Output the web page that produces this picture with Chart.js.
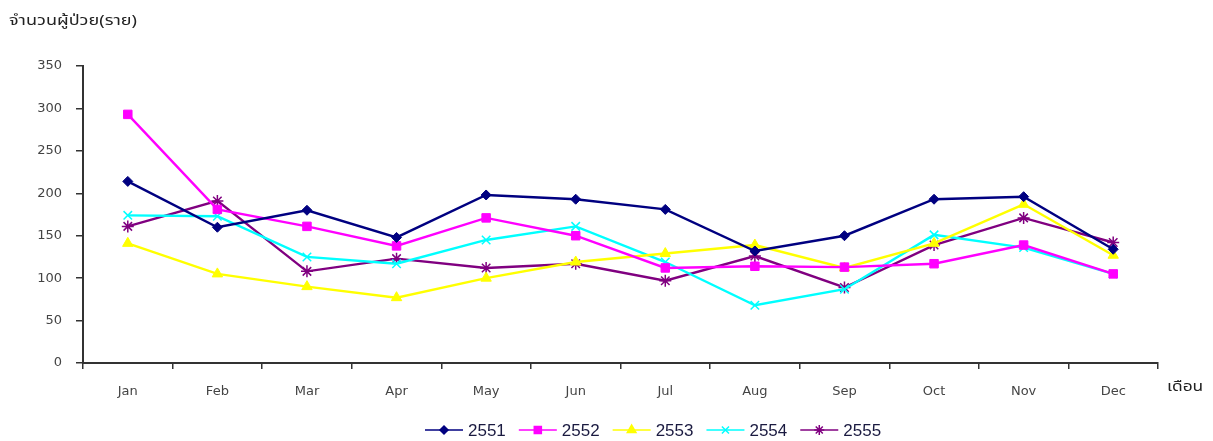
<!DOCTYPE html>
<html>
<head>
<meta charset="utf-8">
<script src="https://cdn.jsdelivr.net/npm/chart.js@4.4.1/dist/chart.umd.min.js"></script>
<style>
  html, body { margin: 0; padding: 0; background: #fff; }
  #wrap { position: relative; width: 1213px; height: 441px; }
  canvas { position: absolute; left: 0; top: 0; }
  .lbl { position: absolute; font-family: Tahoma, "Noto Sans Thai", "Noto Sans", "DejaVu Sans", sans-serif; color: #222; white-space: nowrap; transform-origin: 0 0; }
</style>
</head>
<body>
<div id="wrap">
  <canvas id="c" width="1213" height="441"></canvas>
  <div class="lbl" id="ytitle" style="left:9px; top:10px; font-size:14px; transform:scaleX(1.29);">จำนวนผู้ป่วย(ราย)</div>
  <div class="lbl" id="xtitle" style="left:1167px; top:376px; font-size:14px; transform:scaleX(1.24);">เดือน</div>
</div>
<script>
const months = ['Jan','Feb','Mar','Apr','May','Jun','Jul','Aug','Sep','Oct','Nov','Dec'];
const seriesNames = ['2551','2552','2553','2554','2555'];
const y2551 = [214, 160, 180, 148, 198, 193, 181, 132, 150, 193, 196, 134];
const y2552 = [293, 181, 161, 138, 171, 150, 112, 114, 113, 117, 139, 105];
const y2553 = [141, 105, 90, 77, 100, 119, 129, 139, 112, 141, 187, 127];
const y2554 = [174, 173, 125, 117, 145, 161, 119, 68, 87, 151, 136, 105];
const y2555 = [161, 191, 108, 123, 112, 117, 97, 126, 89, 139, 171, 142];
const yTicks = [0, 50, 100, 150, 200, 250, 300, 350];

const colors = ['#000080', '#FF00FF', '#FFFF00', '#00FFFF', '#800080'];
const styles = ['rectRot', 'rect', 'triangle', 'crossRot', 'star'];
const radii = [5, 6, 6, 6, 6];
const values = [y2551, y2552, y2553, y2554, y2555];

const datasets = seriesNames.map((n, i) => ({
  label: n,
  data: values[i],
  borderColor: colors[i],
  backgroundColor: colors[i],
  pointBackgroundColor: colors[i],
  pointBorderColor: colors[i],
  pointStyle: styles[i],
  pointRadius: radii[i],
  pointHoverRadius: radii[i],
  pointBorderWidth: (styles[i] === 'crossRot' || styles[i] === 'star') ? 1.5 : 1,
  borderWidth: 2.4,
  tension: 0,
  fill: false
}));

const legendPlugin = {
  id: 'customLegend',
  afterDraw(chart) {
    const ctx = chart.ctx;
    ctx.save();
    ctx.font = '17px "Liberation Sans", Arial, sans-serif';
    ctx.textBaseline = 'middle';
    let x = 425;
    const y = 430;
    const ls = [4, 5, 5, 5, 5];
    chart.data.datasets.forEach((ds, i) => {
      ctx.strokeStyle = ds.borderColor;
      ctx.fillStyle = ds.borderColor;
      ctx.lineWidth = 1.5;
      ctx.beginPath();
      ctx.moveTo(x, y);
      ctx.lineTo(x + 38, y);
      ctx.stroke();
      Chart.helpers.drawPoint(ctx, {pointStyle: ds.pointStyle, radius: ls[i], borderWidth: 1.5, rotation: 0}, x + 19, y);
      ctx.fillStyle = '#1a1a40';
      ctx.fillText(ds.label, x + 43, y + 1);
      const w = ctx.measureText(ds.label).width;
      x += 43 + w + 13;
    });
    ctx.restore();
  }
};

new Chart(document.getElementById('c'), {
  type: 'line',
  data: { labels: months, datasets },
  options: {
    responsive: false,
    animation: false,
    layout: { padding: { left: 0, right: 55, top: 66, bottom: 0 } },
    plugins: { legend: { display: false }, tooltip: { enabled: false } },
    scales: {
      x: {
        offset: true,
        grid: { display: true, offset: true, drawOnChartArea: false, drawTicks: true, tickLength: 6, color: '#333', lineWidth: 1.5 },
        border: { display: true, color: '#333', width: 2 },
        ticks: { color: '#444', font: { family: '"DejaVu Sans", Verdana, sans-serif', size: 13 }, padding: 15, maxRotation: 0 },
        afterFit(scale) { scale.height = 78; }
      },
      y: {
        min: 0, max: 350,
        afterBuildTicks(scale) { scale.ticks = yTicks.map(v => ({ value: v })); },
        grid: { display: true, drawOnChartArea: false, drawTicks: true, tickLength: 7, color: '#333', lineWidth: 1.5 },
        border: { display: true, color: '#333', width: 2 },
        ticks: { color: '#444', font: { family: '"DejaVu Sans", Verdana, sans-serif', size: 13 }, padding: 14 },
        afterFit(scale) { scale.width = 83; }
      }
    }
  },
  plugins: [legendPlugin]
});
</script>
</body>
</html>
